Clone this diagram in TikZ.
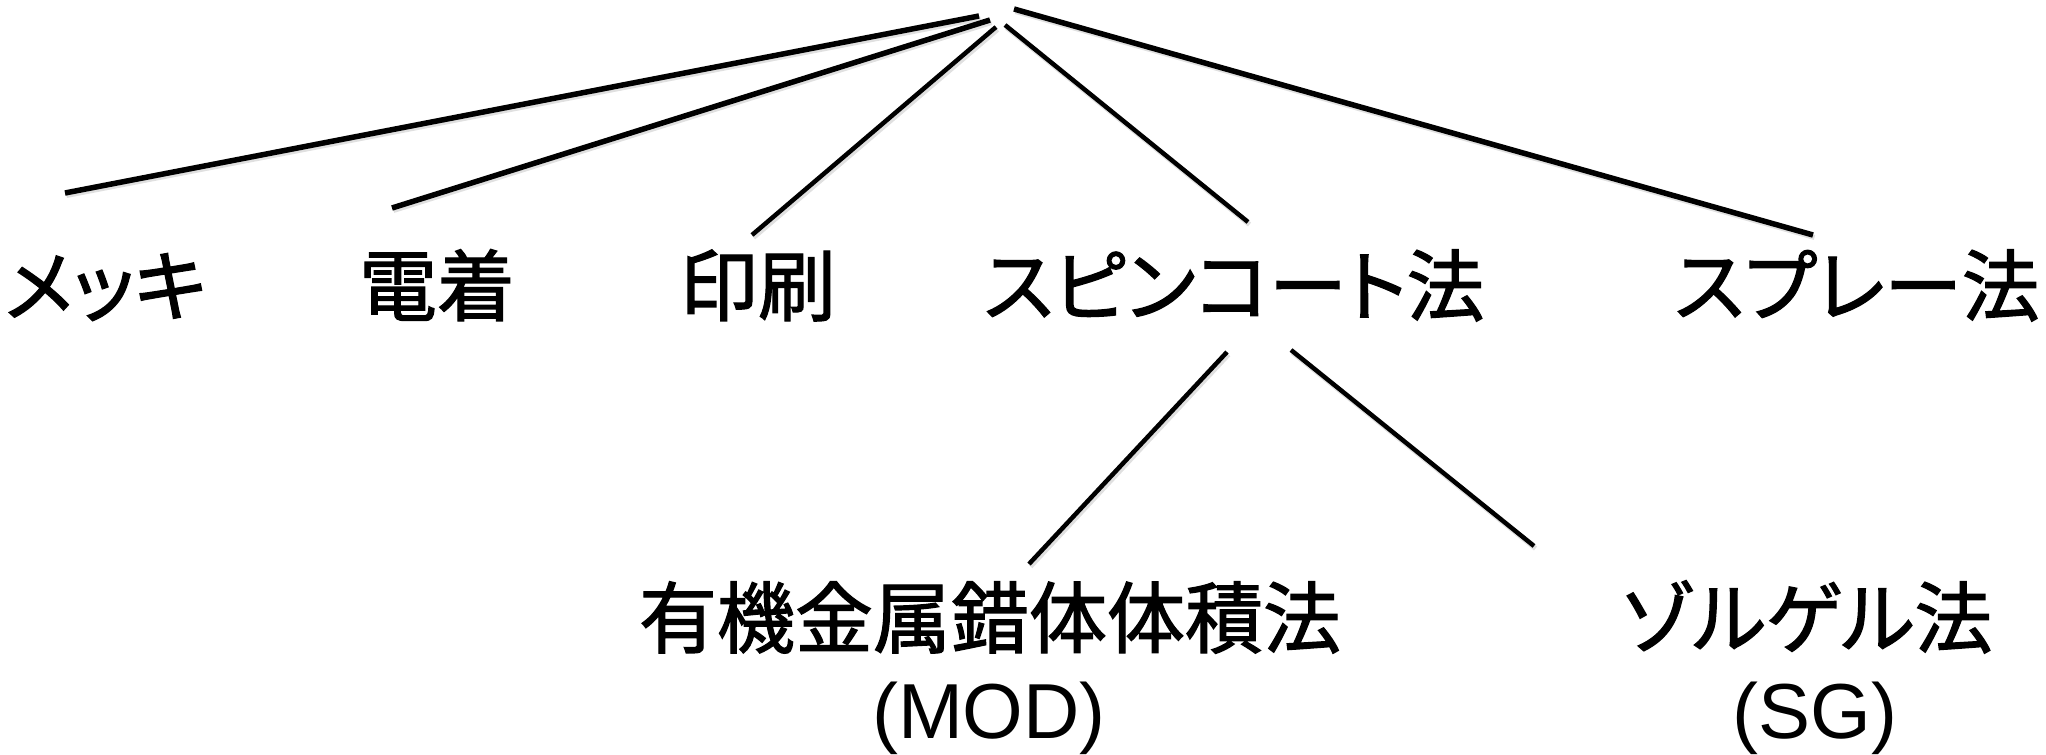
\documentclass[tikz,border=0pt]{standalone}
\usepackage{fontspec}
\newfontfamily\jp{Noto Sans CJK JP}[RawFeature=+palt, FakeBold=1.6]
\newfontfamily\lat{Liberation Sans}
\begin{document}
\begin{tikzpicture}[x=1pt,y=-1pt,
  lbl/.style={inner sep=0pt, anchor=base, font=\jp\fontsize{78}{90}\selectfont},
  latlbl/.style={inner sep=0pt, anchor=base, font=\lat\fontsize{78}{90}\selectfont},
  link/.style={line width=5.5pt},
  thinlink/.style={line width=4.5pt},
  shadow/.style={draw=black!12, line width=5pt, transform canvas={shift={(1.5pt,-2.5pt)}}}]
\useasboundingbox (0,0) rectangle (2046,755);
% labels
\node[lbl] (mekki) at (106,315) {メッキ};
\node[lbl] (denchaku) at (437,315) {電着};
\node[lbl] (insatsu) at (758,315) {印刷};
\node[lbl] (spin) at (1234,315) {スピンコート法};
\node[lbl] (spray) at (1857,315) {スプレー法};
\node[lbl] (mod) at (990,647) {有機金属錯体体積法};
\node[latlbl] (modabbr) at (989,738) {(MOD)};
\node[lbl] (sg) at (1807,647) {ゾルゲル法};
\node[latlbl] (sgabbr) at (1815,738) {(SG)};
% connector end points
\coordinate (r1) at (979,16);
\coordinate (r2) at (990,20);
\coordinate (r3) at (996,27);
\coordinate (r4) at (1005,25);
\coordinate (r5) at (1014,9);
\coordinate (mekkiT) at (65,193);
\coordinate (denchakuT) at (392,208);
\coordinate (insatsuT) at (752,235);
\coordinate (spinT) at (1248,222);
\coordinate (sprayT) at (1813,235);
\coordinate (spinB1) at (1227,352);
\coordinate (spinB2) at (1291,350);
\coordinate (modT) at (1029,564);
\coordinate (sgT) at (1534,546);
% shadows
\foreach \a/\b in {r1/mekkiT, r2/denchakuT, r3/insatsuT, r4/spinT, r5/sprayT, spinB1/modT, spinB2/sgT}
  \draw[shadow] (\a) -- (\b);
% connectors
\draw[link] (r1) -- (mekkiT);
\draw[link] (r2) -- (denchakuT);
\draw[thinlink] (r3) -- (insatsuT);
\draw[thinlink] (r4) -- (spinT);
\draw[link] (r5) -- (sprayT);
\draw[thinlink] (spinB1) -- (modT);
\draw[thinlink] (spinB2) -- (sgT);
\end{tikzpicture}
\end{document}
